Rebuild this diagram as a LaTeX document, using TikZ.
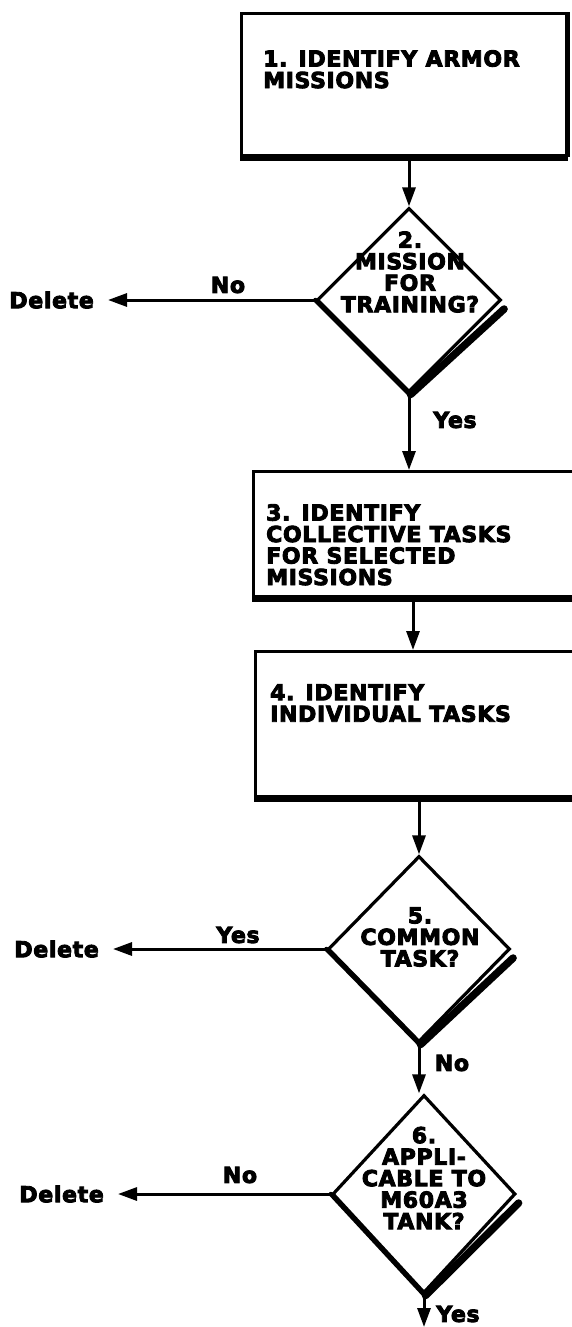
\documentclass[tikz,border=0pt]{standalone}
\usepackage{fontspec}
\usetikzlibrary{shapes.geometric,arrows.meta}
\newfontfamily\chartfont{DejaVu Sans}[FakeBold=4,LetterSpace=3]

\begin{document}
\begin{tikzpicture}[x=1pt,y=-1pt,
  every node/.style={inner sep=0pt},
  txt/.style={font=\chartfont\bfseries\fontsize{22}{21.5}\selectfont},
  stepbox/.style={draw, line width=3.2pt, anchor=north west},
  decision/.style={diamond, draw, line width=3.2pt},
  flow/.style={line width=3pt, -{Triangle[length=19pt,width=13pt]}},
  boxshade/.style={line width=5.5pt},
  edgeshade/.style={line width=#1, line cap=round},
]
\useasboundingbox (0,0) rectangle (572,1327);
\clip (0,0) rectangle (572,1327);

% ---- step 1
\node[stepbox, minimum width=325pt, minimum height=142pt] (b1) at (240,12) {};
\draw[boxshade] ([yshift=-1pt]b1.south west) -- ([yshift=-1pt]b1.south east);
\draw[line width=4.5pt] (b1.south east) -- (b1.north east);
\node[txt, align=left, anchor=north west] (t1) at (263,50) {1. IDENTIFY ARMOR\\MISSIONS};

% ---- decision 2
\node[decision, minimum width=184pt, minimum height=184pt] (d2) at (409,300) {};
\draw[edgeshade=4.5pt] (d2.west) -- (d2.south);
\draw[edgeshade=7.5pt] ([xshift=1.5pt,yshift=-1pt]d2.south) -- ([xshift=1.5pt,yshift=-9pt]d2.east);
\node[txt, align=center] (q2) at (410,272) {2.\\MISSION\\FOR\\TRAINING?};
\node[txt, anchor=east] (del2) at (94,300) {Delete};
\node[txt] (no2) at (228,285) {No};
\node[txt] (yes2) at (455,420) {Yes};

% ---- step 3
\node[stepbox, minimum width=360pt, minimum height=125pt] (b3) at (252,470) {};
\draw[boxshade] ([yshift=-1pt]b3.south west) -- ([yshift=-1pt]b3.south east);
\node[txt, align=left, anchor=north west] (t3) at (266,504) {3. IDENTIFY\\COLLECTIVE TASKS\\FOR SELECTED\\MISSIONS};

% ---- step 4
\node[stepbox, minimum width=360pt, minimum height=145pt] (b4) at (254,650) {};
\draw[boxshade] ([yshift=-1pt]b4.south west) -- ([yshift=-1pt]b4.south east);
\node[txt, align=left, anchor=north west] (t4) at (270,684) {4. IDENTIFY\\INDIVIDUAL TASKS};

% ---- decision 5
\node[decision, minimum width=182pt, minimum height=186pt] (d5) at (419,949) {};
\draw[edgeshade=4.5pt] (d5.west) -- (d5.south);
\draw[edgeshade=7.5pt] ([xshift=1.5pt,yshift=-1pt]d5.south) -- ([xshift=1.5pt,yshift=-9pt]d5.east);
\node[txt, align=center] (q5) at (420,937) {5.\\COMMON\\TASK?};
\node[txt, anchor=east] (del5) at (99,949) {Delete};
\node[txt] (yes5) at (238,935) {Yes};
\node[txt] (no5) at (452,1063) {No};

% ---- decision 6
\node[decision, minimum width=183pt, minimum height=198pt] (d6) at (424,1194) {};
\draw[edgeshade=4.5pt] (d6.west) -- (d6.south);
\draw[edgeshade=7.5pt] ([xshift=1.5pt,yshift=-1pt]d6.south) -- ([xshift=1.5pt,yshift=-9pt]d6.east);
\node[txt, align=center] (q6) at (424,1178) {6.\\APPLI-\\CABLE TO\\M60A3\\TANK?};
\node[txt, anchor=east] (del6) at (104,1194) {Delete};
\node[txt] (no6) at (240,1175) {No};
\node[txt] (yes6) at (458,1314) {Yes};
\coordinate (exit) at (424,1327);

% ---- connectors
\draw[flow] (b1.south -| d2.north) -- (d2.north);
\draw[flow, shorten >=14pt] (d2.west) -- (del2.east);
\draw[flow] (d2.south) -- (d2.south |- b3.north);
\draw[flow] ([xshift=161pt]b3.south west) -- ([xshift=161pt]b3.south west |- b4.north);
\draw[flow] (b4.south -| d5.north) -- (d5.north);
\draw[flow, shorten >=14pt] (d5.west) -- (del5.east);
\draw[flow] (d5.south) -- (d5.south |- d6.north);
\draw[flow, shorten >=14pt] (d6.west) -- (del6.east);
\draw[flow] (d6.south) -- (exit);
\end{tikzpicture}
\end{document}
